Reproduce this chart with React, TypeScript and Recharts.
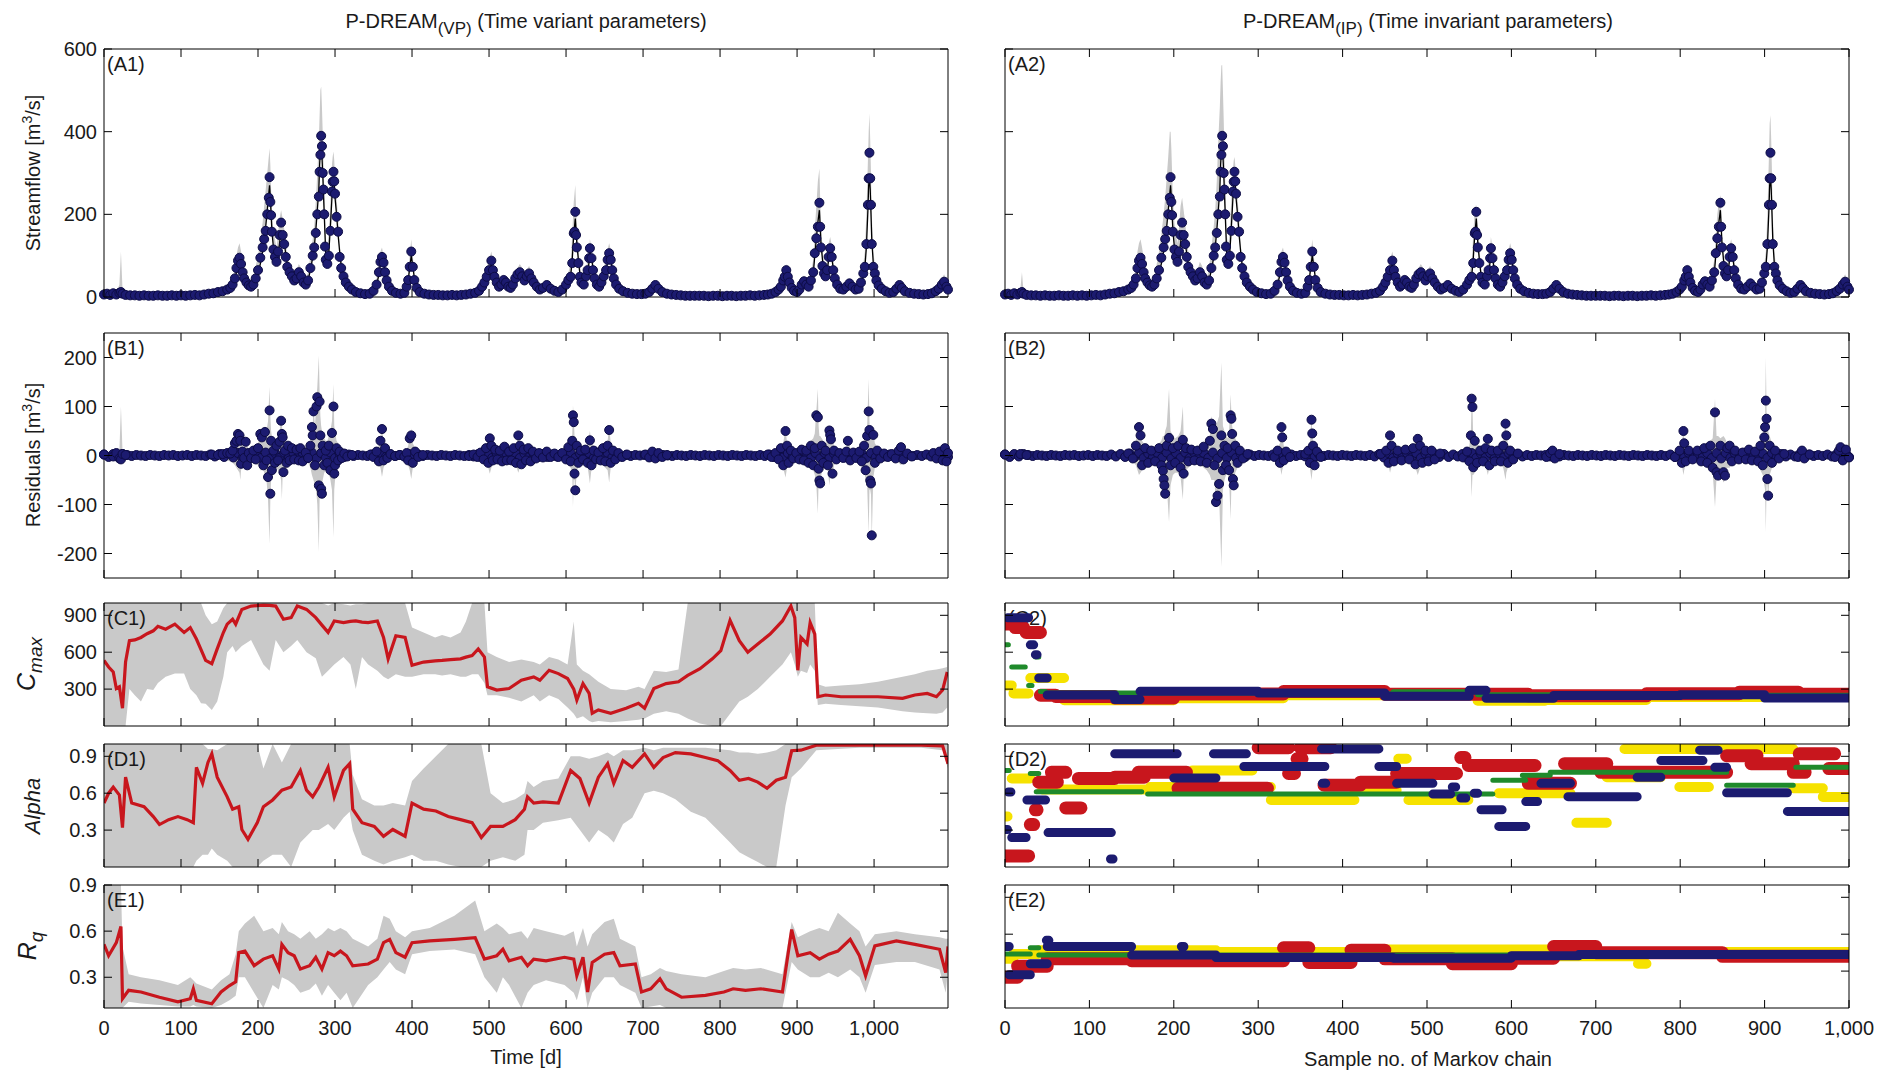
import React from 'react';
import { ComposedChart, Line, Area, XAxis, YAxis } from 'recharts';

const NAVY = '#1c1b70';
const NAVY_EDGE = '#0d0c45';
const GRAY = '#c9c9c9';
const RED = '#c8161d';
const YEL = '#f6e200';
const GRN = '#1f8a2b';
const FONT = '"Liberation Sans", Arial, Helvetica, sans-serif';

// ---------- ticks ----------
const xTicks = [0, 100, 200, 300, 400, 500, 600, 700, 800, 900, 1000];
const flowTicks = [0, 200, 400, 600];
const resTicks = [-200, -100, 0, 100, 200];
const cmaxTicks = [300, 600, 900];
const fracTicks = [0.3, 0.6, 0.9];

// ---------- streamflow: [day, observed, simulated, upper VP, upper IP] ----------
const flowRows: number[][] = [
[0,6,5,8,8],[4,8,7,12,12],[8,5,5,8,8],[12,9,8,14,14],[16,6,6,10,10],[20,10,9,30,20],[22,12,10,110,60],[24,8,8,20,15],[28,5,5,8,8],[34,4,4,6,6],[40,4,4,6,6],[46,3,3,5,5],[52,4,4,6,6],[58,3,3,5,5],[64,3,3,5,5],[70,4,3,6,6],[76,3,3,5,5],[82,3,3,5,5],[88,4,4,6,6],[94,3,3,5,5],[100,4,4,6,6],[106,3,3,5,5],[112,4,4,6,6],[118,5,4,7,7],[124,4,4,6,6],[130,6,5,9,9],[136,8,7,12,12],[142,9,8,14,14],[148,12,10,18,18],[154,14,12,22,22],[160,18,16,28,28],[164,22,20,34,34],[167,30,28,45,45],[170,45,40,70,70],[172,70,60,100,110],[174,88,80,120,130],[176,95,85,130,140],[178,80,75,110,120],[180,60,58,90,95],[182,45,45,70,75],[185,35,35,55,55],[188,28,30,45,45],[191,25,27,40,40],[194,30,30,50,50],[197,45,40,75,80],[200,65,55,100,110],[203,95,80,140,150],[206,120,110,180,200],[208,140,140,220,240],[210,160,170,260,290],[212,200,210,300,340],[214,240,250,340,400],[215,290,270,360,400],[216,230,240,320,360],[217,198,200,260,300],[218,158,160,210,240],[220,115,120,160,180],[222,97,100,140,150],[224,85,90,120,130],[226,110,100,150,170],[228,150,130,190,220],[230,180,160,210,240],[232,150,150,190,210],[234,128,130,165,180],[236,97,105,130,140],[238,73,80,100,110],[241,60,60,80,85],[244,50,50,70,70],[247,40,42,58,60],[250,45,45,65,65],[253,60,55,80,85],[256,50,50,70,75],[259,35,40,55,55],[262,30,32,45,45],[265,40,40,60,70],[268,70,65,100,120],[271,100,95,140,170],[273,120,120,170,210],[275,155,160,230,280],[277,200,210,300,380],[279,243,260,380,460],[280,303,320,440,520],[281,344,350,500,560],[282,390,370,509,561],[283,365,340,460,500],[284,300,300,400,430],[285,260,250,330,350],[286,200,200,260,280],[287,122,150,200,210],[288,90,100,140,150],[290,80,85,120,120],[292,100,110,160,170],[294,160,170,230,240],[296,255,240,320,310],[297,279,270,340,330],[298,303,290,352,339],[299,280,270,330,320],[300,250,240,290,290],[302,194,200,240,240],[304,158,150,190,190],[306,97,110,130,130],[308,70,75,95,95],[311,50,52,70,70],[314,35,38,50,50],[318,25,26,36,36],[322,18,18,26,26],[327,12,12,18,18],[333,9,9,14,14],[339,7,7,11,11],[345,8,8,12,12],[350,15,14,22,22],[354,30,28,45,45],[357,60,55,85,85],[359,85,80,110,110],[361,97,90,120,120],[363,83,80,100,100],[365,60,60,80,80],[367,40,42,55,55],[370,25,26,36,36],[374,15,15,22,22],[379,10,10,15,15],[385,8,8,12,12],[390,10,10,15,15],[393,25,22,35,35],[395,41,40,60,60],[397,73,70,100,100],[399,110,100,140,140],[401,73,75,100,100],[403,41,45,60,60],[406,22,24,32,32],[410,12,13,18,18],[416,8,8,12,12],[422,6,6,9,9],[428,5,5,8,8],[434,5,5,8,8],[440,4,4,6,6],[446,4,4,6,6],[452,5,5,7,7],[458,4,4,6,6],[464,5,5,7,7],[470,6,6,9,9],[476,8,8,12,12],[482,10,10,15,15],[487,15,14,22,22],[491,25,24,36,36],[494,35,33,50,50],[497,49,45,70,70],[500,65,60,90,90],[503,88,80,110,110],[505,65,65,90,90],[507,49,50,70,70],[510,35,36,50,50],[513,25,27,38,38],[516,30,30,45,45],[519,41,38,55,55],[522,35,34,48,48],[525,25,26,36,36],[528,22,22,32,32],[531,30,28,42,42],[534,45,40,60,60],[537,55,50,70,70],[540,60,55,80,80],[543,50,50,70,70],[546,40,42,58,58],[549,50,48,66,66],[552,57,52,75,75],[555,45,45,62,62],[558,35,36,50,50],[562,25,26,36,36],[566,18,19,26,26],[570,22,22,32,32],[575,29,27,40,40],[580,20,21,30,30],[585,15,15,22,22],[590,12,12,18,18],[595,18,17,26,26],[600,30,28,45,45],[603,41,38,60,60],[606,49,50,80,80],[608,82,90,150,150],[610,154,150,230,210],[611,158,170,250,220],[612,206,190,271,222],[613,150,160,220,200],[614,120,130,180,170],[616,82,90,120,120],[618,49,55,75,75],[620,35,38,52,52],[623,30,30,45,45],[626,50,45,70,70],[628,65,60,90,90],[630,94,85,120,120],[631,118,110,140,145],[633,94,95,120,120],[635,65,70,90,90],[637,45,48,62,62],[640,30,32,45,45],[643,25,26,36,36],[646,35,32,48,48],[649,50,45,70,70],[652,65,62,90,90],[654,90,85,115,115],[656,106,100,130,130],[658,90,90,115,115],[660,65,68,85,85],[662,45,48,62,62],[665,30,32,42,42],[669,20,21,30,30],[674,14,14,20,20],[680,10,10,15,15],[686,8,8,12,12],[692,7,7,10,10],[698,7,7,10,10],[703,8,8,12,12],[708,12,11,18,18],[712,20,18,30,30],[716,29,27,40,40],[720,20,20,28,28],[725,12,12,18,18],[731,8,8,12,12],[737,6,6,9,9],[743,5,5,8,8],[749,4,4,6,6],[755,3,3,5,5],[761,3,3,5,5],[767,3,3,5,5],[773,3,3,5,5],[779,3,3,5,5],[785,2,2,4,4],[791,3,3,5,5],[797,3,3,5,5],[803,2,2,4,4],[809,3,3,5,5],[815,3,3,5,5],[821,2,2,4,4],[827,3,3,5,5],[833,3,3,5,5],[839,4,4,6,6],[845,3,3,5,5],[851,4,4,6,6],[857,5,5,7,7],[862,6,6,9,9],[867,8,8,12,12],[872,12,11,18,18],[876,18,16,26,26],[879,25,24,36,36],[882,40,36,55,55],[884,49,45,65,65],[886,65,58,80,80],[888,49,50,66,66],[890,35,36,50,50],[893,22,24,32,32],[896,15,16,22,22],[900,12,12,18,18],[903,18,17,26,26],[906,30,28,42,42],[909,38,36,52,52],[912,30,30,42,42],[915,25,25,36,36],[918,40,38,60,60],[921,60,55,90,90],[923,106,100,160,150],[925,142,140,220,200],[927,170,180,280,230],[929,228,210,311,247],[930,170,170,240,210],[931,120,130,180,160],[933,75,90,120,110],[935,57,60,80,80],[937,50,52,70,70],[939,65,62,90,90],[941,97,90,130,125],[943,118,110,145,140],[945,97,95,125,120],[947,65,70,90,90],[949,45,48,62,62],[952,30,32,42,42],[956,20,21,30,30],[960,18,18,26,26],[964,25,24,36,36],[968,33,30,45,45],[972,25,25,36,36],[976,18,18,26,26],[980,20,20,30,30],[983,35,32,50,50],[986,57,50,80,80],[988,73,70,110,110],[990,128,120,200,200],[992,223,210,330,340],[993,287,270,400,420],[994,349,290,444,440],[995,287,260,380,380],[996,223,200,300,300],[997,128,140,200,200],[999,73,80,110,110],[1001,57,60,80,80],[1003,40,42,56,56],[1006,28,30,40,40],[1010,20,21,30,30],[1015,14,14,20,20],[1020,10,10,15,15],[1025,12,12,18,18],[1029,20,18,28,28],[1033,29,27,40,40],[1036,22,22,32,32],[1040,14,14,20,20],[1046,10,10,15,15],[1052,8,8,12,12],[1058,7,7,10,10],[1064,6,6,9,9],[1070,7,7,10,10],[1075,9,9,14,14],[1080,14,13,20,20],[1084,20,19,30,30],[1088,30,28,45,45],[1091,37,34,55,55],[1094,25,26,40,40],[1096,18,18,28,28]
];

// ---------- residuals: quiet-period points [day, residual] ----------
const resBase: number[][] = [
[0,2],[6,-3],[12,3],[18,-2],[24,3],[30,1],[36,-1],[42,1],[48,0],[54,-1],[60,1],[66,0],[72,-1],[78,1],[84,0],[90,1],[96,-1],[102,0],[108,1],[114,-1],[120,1],[126,0],[132,-1],[138,2],[144,-2],[150,3],[156,-3],[162,4],[168,-4],[174,5],[180,-5],[186,4],[192,-4],[198,5],[204,-5],[210,6],[216,-6],[222,5],[228,-5],[234,6],[240,-5],[246,5],[252,-4],[258,5],[264,-5],[270,6],[276,-6],[282,5],[288,-5],[294,6],[300,-5],[306,4],[312,-3],[318,2],[324,-1],[330,1],[336,0],[342,-1],[348,2],[354,-3],[360,4],[366,-3],[372,2],[378,-1],[384,1],[390,-2],[396,3],[402,-3],[408,2],[414,-1],[420,1],[426,0],[432,-1],[438,1],[444,0],[450,-1],[456,1],[462,0],[468,-1],[474,1],[480,-2],[486,3],[492,-4],[498,5],[504,-5],[510,4],[516,-4],[522,5],[528,-4],[534,5],[540,-5],[546,4],[552,-4],[558,3],[564,-3],[570,3],[576,-3],[582,2],[588,-2],[594,3],[600,-4],[606,5],[612,-5],[618,4],[624,-4],[630,5],[636,-5],[642,4],[648,-4],[654,5],[660,-4],[666,3],[672,-2],[678,1],[684,-1],[690,1],[696,0],[702,1],[708,-2],[714,3],[720,-2],[726,1],[732,0],[738,-1],[744,1],[750,0],[756,-1],[762,1],[768,0],[774,-1],[780,1],[786,0],[792,-1],[798,1],[804,0],[810,-1],[816,1],[822,0],[828,-1],[834,1],[840,0],[846,-1],[852,1],[858,-1],[864,2],[870,-3],[876,4],[882,-4],[888,5],[894,-4],[900,3],[906,-4],[912,5],[918,-5],[924,5],[930,-6],[936,5],[942,-5],[948,4],[954,-3],[960,3],[966,-4],[972,3],[978,-3],[984,4],[990,-5],[996,5],[1002,-4],[1008,3],[1014,-2],[1020,2],[1026,-2],[1032,3],[1038,-3],[1044,2],[1050,-1],[1056,1],[1062,-1],[1068,2],[1074,-2],[1080,3],[1086,-4],[1092,4],[1096,-3]
];

// ---------- residuals around events, VP: [day, residual, lower, upper] ----------
const resEventsVP: number[][] = [
[0,2,-5,5],[12,-2,-6,8],[16,5,-6,10],[20,-6,-8,10],[22,-8,-12,100],[24,3,-8,10],[28,1,-4,4],
[140,2,-5,6],[148,1,-6,8],[154,3,-8,10],[160,5,-10,12],[164,4,-12,15],[167,10,-15,20],[170,25,-20,30],[172,30,-25,40],[174,44,-30,50],[176,41,-35,45],[177,30,-50,45],[178,-17,-30,30],[180,8,-20,20],[182,-5,-15,15],[184,28,-15,35],[186,-20,-25,20],[188,5,-12,12],[191,-5,-12,12],[194,10,-15,18],[197,-8,-18,20],[200,15,-20,25],[203,44,-30,50],[205,37,-30,45],[207,-20,-30,35],[209,48,-40,60],[211,-10,-50,50],[213,-44,-90,70],[215,92,-180,140],[216,-78,-90,80],[217,30,-50,50],[218,-30,-40,40],[220,10,-30,30],[222,-15,-25,25],[224,20,-25,30],[226,-10,-30,35],[228,28,-35,45],[230,71,-50,80],[231,44,-90,60],[232,37,-40,50],[233,-34,-45,40],[235,10,-30,30],[237,-15,-25,25],[239,20,-20,28],[241,-10,-20,20],[244,15,-18,22],[247,-8,-15,15],[250,12,-15,18],[253,-10,-15,15],[255,15,-18,20],[258,-12,-15,15],[262,6,-12,12],[265,-5,-15,15],[268,20,-25,30],[270,58,-40,70],[271,41,-45,60],[272,90,-50,100],[274,-20,-60,60],[276,100,-80,120],[277,119,-100,140],[279,-61,-197,204],[280,110,-90,130],[281,41,-80,80],[282,-68,-80,60],[283,-78,-85,50],[284,20,-50,50],[286,-20,-35,35],[288,10,-30,30],[290,-15,-30,30],[292,20,-35,40],[294,-30,-50,50],[296,46,-70,70],[298,100,-167,146],[299,-37,-70,60],[300,-20,-50,50],[302,15,-30,30],[304,-10,-25,25],[306,8,-20,20],[309,-5,-15,15],[312,4,-10,10],[316,-2,-8,8],[322,1,-5,5],
[346,2,-5,6],[350,-3,-8,10],[354,8,-12,15],[357,-12,-20,20],[359,30,-25,35],[361,54,-44,65],[363,-10,-25,25],[365,15,-18,20],[368,-5,-12,12],[372,3,-8,8],[378,-1,-4,4],[384,1,-4,4],[390,-2,-6,6],[393,5,-12,12],[395,-10,-20,20],[397,35,-30,40],[399,41,-48,55],[401,-15,-25,25],[404,8,-15,15],[408,-3,-10,10],[414,1,-5,5],
[474,-1,-4,5],[480,2,-5,6],[485,-3,-8,10],[489,6,-12,15],[493,-8,-15,18],[496,15,-20,25],[499,-15,-25,25],[501,35,-37,45],[503,20,-25,30],[505,-10,-20,20],[508,12,-18,18],[511,-8,-15,15],[514,10,-15,15],[517,-12,-15,18],[520,18,-18,22],[523,-10,-15,15],[526,8,-12,12],[529,-10,-15,15],[532,15,-18,20],[535,-15,-20,20],[538,41,-35,45],[540,20,-25,30],[542,-18,-22,22],[545,12,-18,18],[548,-10,-18,18],[551,15,-18,20],[554,-12,-15,15],[557,8,-12,12],[561,-6,-10,10],[565,5,-10,10],[570,-4,-8,8],[575,8,-10,10],[580,-3,-8,8],[585,4,-8,8],[590,-3,-8,8],[595,5,-10,10],[600,-8,-12,12],[603,17,-20,20],[606,-12,-25,25],[608,30,-35,40],[609,82,-105,102],[610,68,-50,80],[611,-37,-50,40],[612,-71,-80,40],[614,20,-30,30],[616,-15,-25,25],[619,10,-18,18],[622,-8,-15,15],[625,12,-18,18],[628,-15,-22,22],[631,31,-57,50],[633,-20,-28,25],[636,10,-20,20],[639,-8,-15,15],[642,6,-12,12],[645,-10,-15,15],[648,15,-20,20],[651,-12,-25,25],[654,20,-30,30],[656,52,-55,60],[658,-15,-25,25],[661,10,-18,18],[664,-8,-15,15],[668,5,-10,10],[673,-3,-8,8],[679,2,-5,5],
[703,2,-5,5],[708,-4,-8,8],[712,8,-12,12],[716,-6,-12,12],[720,5,-10,10],[725,-3,-6,6],[731,1,-4,4],
[862,2,-5,5],[867,-3,-8,8],[872,5,-10,10],[876,-8,-15,15],[879,15,-20,20],[882,-20,-25,25],[885,50,-45,55],[887,20,-25,25],[889,-15,-20,20],[892,10,-15,15],[895,-6,-10,10],[899,5,-10,10],[903,-8,-12,12],[906,12,-15,15],[909,-10,-18,18],[912,10,-18,18],[915,-15,-20,20],[918,20,-25,30],[921,-20,-30,35],[923,15,-40,45],[925,82,-60,90],[927,78,-119,136],[928,-27,-50,60],[929,-51,-60,40],[930,-57,-65,40],[932,20,-35,35],[934,-15,-30,30],[937,10,-25,25],[940,-20,-30,30],[942,51,-61,60],[943,42,-40,45],[944,33,-35,40],[946,-37,-45,30],[948,10,-20,20],[951,-8,-15,15],[955,5,-10,10],[960,-5,-10,10],[964,8,-12,12],[966,30,-20,35],[969,-10,-15,15],[973,6,-10,10],[977,-5,-10,10],[981,8,-12,12],[984,-12,-20,20],[987,20,-30,30],[989,-30,-50,50],[991,40,-60,60],[993,90,-160,156],[994,52,-70,70],[995,-51,-70,40],[996,-57,-80,40],[997,-163,-170,40],[999,42,-45,50],[1001,-15,-25,25],[1004,10,-18,18],[1008,-6,-12,12],[1013,4,-8,8],[1018,-3,-6,6],[1023,3,-6,6],[1028,-6,-10,10],[1032,10,-15,15],[1035,17,-20,20],[1038,-8,-12,12],[1043,4,-8,8],[1049,-2,-5,5],
[1077,5,-10,10],[1081,-6,-12,12],[1085,8,-15,15],[1089,-10,-18,18],[1092,15,-22,22],[1094,-12,-18,18],[1096,5,-10,10]
];

// ---------- residuals around events, IP: [day, residual, lower, upper] ----------
const resEventsIP: number[][] = [
[0,2,-5,5],[20,3,-5,8],[28,1,-4,4],
[160,4,-8,10],[166,-6,-12,15],[170,20,-20,30],[174,58,-40,60],[176,41,-35,45],[178,-20,-30,30],[182,15,-20,20],[186,-15,-20,20],[190,10,-15,18],[195,-12,-18,18],[200,15,-25,25],[203,-20,-30,30],[205,-31,-45,40],[206,-48,-55,40],[207,-61,-70,40],[208,-78,-85,50],[210,20,-60,60],[213,36,-136,136],[215,-20,-60,50],[218,15,-40,40],[221,-15,-35,35],[225,20,-35,40],[228,-25,-45,50],[231,32,-90,100],[232,-37,-45,40],[235,15,-30,30],[238,-12,-25,25],[242,12,-20,20],[246,-10,-18,18],[250,10,-18,18],[254,-12,-20,20],[258,18,-25,25],[262,-15,-30,30],[266,30,-40,40],[268,65,-50,80],[270,54,-50,70],[272,-20,-50,50],[274,-95,-105,60],[276,-82,-90,70],[278,-58,-80,80],[281,41,-228,190],[283,-30,-70,60],[285,20,-50,50],[287,-20,-40,40],[289,15,-35,35],[291,-30,-50,50],[293,82,-130,125],[294,75,-60,85],[295,44,-60,60],[296,-48,-60,50],[297,-61,-70,40],[299,20,-35,35],[302,-15,-25,25],[305,10,-18,18],[309,-6,-12,12],[315,3,-6,6],
[350,-3,-6,8],[354,10,-12,15],[357,-15,-20,25],[359,58,-40,60],[360,37,-30,45],[362,-10,-20,20],[365,8,-12,12],[370,-3,-6,6],
[390,3,-6,6],[394,10,-15,18],[396,-15,-25,25],[398,73,-50,80],[399,45,-35,50],[400,20,-25,25],[402,-20,-25,20],[405,8,-12,12],[410,-3,-6,6],
[488,3,-6,8],[495,10,-15,18],[498,-15,-20,20],[500,41,-35,45],[502,20,-22,22],[505,-12,-18,18],[510,10,-15,15],[515,-10,-15,15],[520,12,-18,18],[525,-8,-12,12],[530,15,-18,18],[533,-18,-25,25],[536,34,-40,40],[539,20,-25,25],[542,-15,-20,20],[546,10,-15,15],[550,-12,-18,18],[554,10,-15,15],[558,-8,-12,12],[565,4,-8,8],
[595,-4,-8,8],[600,8,-12,12],[603,-12,-20,20],[605,41,-40,50],[606,116,-85,120],[607,99,-40,105],[608,-24,-40,40],[610,30,-35,35],[613,-15,-25,25],[617,10,-18,18],[621,-12,-18,18],[624,15,-20,20],[627,34,-40,45],[629,-20,-25,25],[632,10,-18,18],[636,-12,-18,18],[640,10,-15,15],[644,-12,-18,18],[647,20,-25,25],[650,65,-50,70],[651,41,-35,45],[653,-15,-25,25],[656,10,-15,15],[660,-8,-12,12],[666,4,-8,8],
[703,-3,-6,6],[708,5,-10,10],[711,10,-15,15],[714,-6,-12,12],[720,3,-6,6],
[870,-3,-6,8],[876,10,-15,15],[879,-15,-20,20],[881,50,-40,55],[882,25,-30,35],[884,-12,-18,18],[888,10,-15,15],[893,-8,-12,12],[899,10,-15,15],[904,-12,-18,18],[908,15,-20,20],[912,-15,-25,25],[916,20,-30,30],[919,-25,-35,35],[922,88,-105,116],[924,-34,-45,40],[926,-41,-50,40],[929,20,-35,35],[933,-34,-55,40],[935,-41,-50,35],[938,15,-25,25],[941,20,-25,25],[944,-12,-18,18],[948,10,-15,15],[953,-8,-12,12],[958,6,-10,10],[962,-8,-12,12],[966,12,-15,15],[970,-10,-15,15],[974,8,-12,12],[978,-12,-18,18],[981,20,-30,30],[984,-20,-40,40],[986,37,-60,60],[987,58,-70,70],[988,112,-156,200],[989,75,-60,85],[990,-48,-60,50],[991,-82,-90,50],[993,20,-40,40],[996,-15,-25,25],[1000,10,-15,15],[1005,-6,-10,10],[1012,3,-6,6],
[1030,-3,-6,8],[1035,10,-15,15],[1038,-6,-12,12],[1045,2,-5,5],
[1078,-3,-6,8],[1083,10,-15,15],[1085,17,-20,20],[1088,-10,-15,15],[1092,12,-18,18],[1096,-4,-8,8]
];

// ---------- time-variant parameters: [day, mean, lower, upper] ----------
const cmaxRows: number[][] = [
[0,533,0,1000],[6,480,0,1000],[12,439,0,1000],[16,305,0,1000],[20,319,0,1000],[24,145,0,1000],[28,520,0,1000],[33,694,300,1000],[40,700,250,1000],[48,720,200,1000],[56,750,300,1000],[64,774,292,1000],[70,810,350,1000],[80,787,400,1000],[92,828,426,1000],[104,761,426,1000],[112,800,300,1000],[120,707,250,1000],[126,620,185,1000],[132,533,180,900],[140,506,131,828],[147,627,200,850],[155,760,400,960],[160,828,600,1000],[167,868,650,1000],[171,828,600,1000],[179,948,650,1000],[191,975,700,1000],[207,983,500,1000],[215,980,450,1000],[223,975,700,1000],[233,868,600,1000],[243,881,650,1000],[251,975,700,1000],[263,948,600,1000],[275,881,550,1000],[283,820,400,1000],[291,761,450,980],[299,854,500,1000],[311,841,560,990],[320,850,500,980],[327,854,300,990],[335,845,560,990],[343,841,500,1000],[355,854,450,1000],[363,720,400,1000],[369,546,380,1000],[379,734,420,1000],[391,720,400,1000],[400,493,400,800],[415,520,420,760],[430,530,420,720],[439,533,410,740],[450,540,420,720],[463,546,400,760],[470,560,400,850],[478,573,420,1000],[486,627,420,1000],[494,560,350,1000],[498,319,250,600],[510,292,250,560],[526,305,230,520],[542,372,200,540],[558,399,250,520],[566,372,200,500],[578,453,250,560],[590,426,220,540],[602,386,150,500],[610,300,100,850],[614,211,60,500],[622,345,80,450],[630,265,40,420],[634,104,30,400],[642,131,40,360],[658,104,30,300],[678,145,40,290],[694,185,50,320],[702,145,60,300],[714,305,100,450],[730,345,120,440],[746,359,100,460],[758,412,60,1000],[774,466,20,1000],[790,546,0,1000],[801,613,0,1000],[813,860,100,1000],[825,694,200,1000],[836,600,238,1000],[849,667,300,1000],[865,747,400,1000],[881,854,500,1000],[892,975,600,1000],[897,881,500,1000],[901,453,400,1000],[905,720,450,1000],[913,667,430,1000],[917,841,500,1000],[923,747,450,1000],[927,238,171,340],[937,252,180,320],[957,238,170,330],[981,238,160,340],[1005,238,150,360],[1037,225,120,400],[1053,252,110,420],[1069,265,104,450],[1081,238,100,460],[1089,292,110,470],[1095,439,150,480]
];
const alphaRows: number[][] = [
[0,0.52,0,1],[6,0.6,0,1],[12,0.65,0,1],[20,0.585,0,1],[24,0.32,0,1],[28,0.73,0,1],[36,0.52,0,1],[52,0.49,0,1],[64,0.41,0,1],[72,0.345,0,1],[84,0.385,0,1],[96,0.41,0,1],[108,0.385,0,1],[116,0.36,0,1],[120,0.81,0.05,1],[128,0.68,0.1,1],[135,0.85,0.1,0.96],[140,0.92,0.15,0.96],[147,0.73,0.1,0.95],[160,0.57,0.05,1],[167,0.47,0,1],[175,0.49,0,1],[179,0.305,0,1],[187,0.225,0,1],[199,0.36,0,1],[207,0.49,0.05,0.8],[219,0.545,0.1,1],[231,0.625,0.1,0.85],[243,0.65,0,1],[255,0.785,0.2,1],[263,0.625,0.25,1],[271,0.57,0.3,1],[279,0.65,0.3,1],[291,0.81,0.35,1],[299,0.57,0.3,1],[311,0.785,0.4,1],[319,0.84,0.45,1],[323,0.47,0.3,0.75],[335,0.36,0.1,0.55],[351,0.33,0.05,0.5],[363,0.25,0.02,0.5],[375,0.305,0.05,0.52],[391,0.25,0.08,0.5],[400,0.52,0.1,0.7],[415,0.47,0.05,0.8],[431,0.455,0.05,0.9],[447,0.41,0.02,1],[463,0.385,0,1],[478,0.36,0,1],[490,0.24,0,1],[502,0.33,0.05,0.6],[518,0.33,0.08,0.52],[534,0.385,0.05,0.55],[546,0.47,0.1,0.6],[550,0.57,0.3,0.7],[558,0.52,0.3,0.65],[570,0.53,0.36,0.7],[590,0.52,0.38,0.72],[606,0.785,0.4,0.9],[618,0.72,0.3,0.9],[630,0.52,0.2,0.88],[642,0.73,0.3,0.9],[654,0.84,0.25,0.93],[662,0.68,0.2,0.9],[674,0.865,0.35,0.95],[686,0.81,0.4,0.95],[702,0.92,0.6,0.97],[714,0.81,0.62,0.95],[726,0.89,0.6,0.97],[742,0.93,0.55,0.97],[762,0.92,0.45,0.97],[781,0.89,0.4,0.97],[797,0.865,0.3,0.96],[813,0.785,0.2,0.95],[825,0.705,0.12,0.93],[837,0.72,0.08,0.93],[849,0.69,0.04,0.92],[861,0.64,0,0.93],[873,0.705,0,0.95],[885,0.73,0.5,1],[893,0.945,0.73,1],[905,0.95,0.8,1],[925,0.99,0.95,1],[981,0.99,0.97,1],[1061,0.99,0.97,1],[1089,0.985,0.95,1],[1096,0.84,0.8,1]
];
const rqRows: number[][] = [
[0,0.514,0.1,0.9],[6,0.44,0.1,0.9],[16,0.525,0.1,0.9],[22,0.63,0.1,0.9],[24,0.16,0.1,0.5],[32,0.215,0.14,0.32],[48,0.204,0.13,0.3],[72,0.17,0.12,0.28],[96,0.14,0.11,0.25],[112,0.16,0.11,0.3],[116,0.225,0.12,0.28],[120,0.15,0.11,0.26],[140,0.128,0.1,0.22],[152,0.204,0.12,0.28],[163,0.246,0.15,0.32],[171,0.27,0.18,0.45],[175,0.46,0.3,0.6],[183,0.47,0.3,0.65],[195,0.375,0.2,0.7],[207,0.418,0.1,0.6],[219,0.44,0.25,0.62],[227,0.353,0.22,0.58],[231,0.514,0.3,0.66],[239,0.46,0.28,0.6],[247,0.44,0.25,0.58],[255,0.353,0.2,0.55],[267,0.375,0.22,0.6],[275,0.43,0.26,0.55],[283,0.353,0.18,0.58],[291,0.46,0.25,0.62],[299,0.44,0.2,0.6],[307,0.47,0.15,0.62],[315,0.44,0.2,0.6],[323,0.375,0.1,0.55],[343,0.386,0.25,0.5],[355,0.418,0.3,0.55],[363,0.525,0.35,0.7],[371,0.546,0.4,0.68],[379,0.46,0.35,0.6],[391,0.43,0.32,0.56],[400,0.525,0.45,0.6],[423,0.536,0.47,0.62],[455,0.546,0.48,0.7],[482,0.557,0.45,0.8],[494,0.418,0.3,0.6],[510,0.44,0.2,0.65],[518,0.482,0.3,0.62],[526,0.407,0.25,0.58],[542,0.43,0.1,0.6],[550,0.375,0.2,0.55],[558,0.418,0.25,0.62],[574,0.407,0.28,0.6],[598,0.43,0.25,0.57],[610,0.418,0.2,0.6],[614,0.31,0.15,0.5],[622,0.43,0.3,0.62],[628,0.204,0.1,0.5],[634,0.396,0.2,0.58],[650,0.45,0.3,0.66],[662,0.46,0.3,0.68],[670,0.375,0.25,0.55],[690,0.386,0.2,0.5],[698,0.204,0.1,0.3],[710,0.225,0.11,0.32],[722,0.29,0.12,0.36],[730,0.225,0.1,0.34],[750,0.17,0.1,0.32],[781,0.182,0.1,0.3],[805,0.204,0.1,0.34],[817,0.225,0.1,0.36],[833,0.215,0.1,0.35],[853,0.225,0.1,0.36],[881,0.204,0.1,0.32],[893,0.61,0.4,0.66],[901,0.44,0.35,0.56],[917,0.46,0.3,0.6],[929,0.418,0.3,0.62],[941,0.45,0.33,0.6],[953,0.47,0.3,0.72],[969,0.546,0.35,0.65],[981,0.44,0.3,0.6],[989,0.31,0.2,0.5],[1001,0.504,0.38,0.58],[1029,0.536,0.4,0.6],[1053,0.514,0.4,0.58],[1085,0.482,0.35,0.56],[1093,0.33,0.2,0.55],[1096,0.5,0.35,0.55]
];

// ---------- Markov chains (time invariant): [startSample, endSample, value] ----------
const c2Yellow = [[2,8,330],[10,28,265],[30,70,390],[70,200,210],[200,330,225],[330,560,250],[560,640,205],[640,760,212],[760,1000,235]];
const c2Red = [[0,10,830],[12,22,800],[25,42,760],[42,60,250],[60,130,240],[130,200,228],[200,330,260],[330,450,280],[450,620,258],[620,760,245],[760,870,262],[870,940,275],[940,1000,258]];
const c2Green = [[0,4,660],[8,24,480],[28,32,330],[36,40,560],[42,48,280],[48,300,268],[300,460,262],[460,560,278],[560,700,255],[700,1000,250]];
const c2Navy = [[3,28,880],[30,34,660],[36,38,580],[40,50,390],[50,130,252],[130,160,215],[160,300,282],[300,450,268],[450,550,242],[550,570,290],[570,650,225],[650,800,248],[800,900,255],[900,1000,228]];

const d2Yellow = [[0,3,0.41],[8,30,0.72],[44,172,0.63],[172,222,0.65],[222,293,0.785],[293,315,0.65],[315,414,0.545],[414,464,0.625],[466,476,0.88],[478,549,0.545],[585,670,0.6],[677,713,0.36],[713,777,0.73],[734,841,0.96],[799,834,0.65],[841,934,0.96],[934,969,0.64],[969,1000,0.57]];
const d2Red = [[0,28,0.09],[30,34,0.345],[36,38,0.465],[40,62,0.69],[55,72,0.77],[72,90,0.48],[87,130,0.72],[130,165,0.73],[158,215,0.77],[205,311,0.64],[300,336,0.97],[336,343,0.76],[346,352,0.88],[350,386,0.97],[378,421,0.665],[421,464,0.69],[464,535,0.76],[540,545,0.89],[549,628,0.825],[620,670,0.68],[663,713,0.84],[706,855,0.77],[855,891,0.905],[884,934,0.84],[934,948,0.77],[941,983,0.92],[976,1000,0.8]];
const d2Green = [[0,5,0.785],[30,40,0.76],[37,162,0.612],[169,578,0.593],[578,617,0.705],[613,646,0.745],[646,855,0.77],[855,934,0.665],[937,1000,0.81]];
const d2Navy = [[0,3,0.305],[4,7,0.61],[8,25,0.24],[26,48,0.545],[51,126,0.28],[125,128,0.065],[130,204,0.92],[200,250,0.724],[247,286,0.92],[283,379,0.817],[375,443,0.96],[376,380,0.68],[443,464,0.817],[464,507,0.68],[507,528,0.593],[530,534,0.65],[540,546,0.56],[556,560,0.6],[564,589,0.465],[585,617,0.33],[617,631,0.532],[635,670,0.68],[667,749,0.572],[749,777,0.73],[777,827,0.865],[823,845,0.95],[841,855,0.81],[855,927,0.604],[927,1000,0.452]];

const e2Yellow = [[0,10,0.40],[10,40,0.44],[40,150,0.47],[150,250,0.47],[250,450,0.455],[450,650,0.475],[650,750,0.42],[750,760,0.36],[760,1000,0.455]];
const e2Red = [[0,15,0.25],[15,50,0.34],[50,150,0.40],[150,330,0.385],[330,360,0.49],[360,410,0.37],[410,450,0.47],[450,530,0.40],[530,600,0.36],[600,650,0.405],[650,700,0.50],[700,850,0.45],[850,1000,0.42]];
const e2Green = [[0,30,0.44],[30,40,0.49],[40,150,0.43],[150,1000,0.43]];
const e2Navy = [[0,5,0.5],[5,30,0.27],[30,50,0.36],[50,150,0.5],[49,52,0.55],[150,250,0.43],[209,212,0.5],[250,460,0.41],[460,600,0.405],[600,680,0.425],[680,1000,0.435]];

// ---------- derived records ----------
const flowData = flowRows.map(([day, obs, sim, hiVP, hiIP]) => ({ day, obs, sim, hiVP, hiIP }));
const resBaseData = resBase.map(([day, res]) => ({ day, res }));
const toRes = (rows: number[][]) => rows.map(([day, res, lo, hi]) => ({ day, res, lo, hi }));
const resVPData = toRes(resEventsVP);
const resIPData = toRes(resEventsIP);
const toPar = (rows: number[][]) => rows.map(([day, mean, lo, hi]) => ({ day, mean, lo, hi }));
const cmaxData = toPar(cmaxRows);
const alphaData = toPar(alphaRows);
const rqData = toPar(rqRows);
const segData = (segs: number[][]) => {
  const out: { x: number; y: number | null }[] = [];
  segs.forEach(([s, e, v]) => { out.push({ x: s, y: v }, { x: e, y: v }, { x: e, y: null }); });
  return out;
};

// ---------- layout ----------
const PL = 60, PR = 40, PB = 40, PT = 14, PW = 844;
const COLS = [104, 1005];
const ROW_A: [number, number] = [49, 248];
const ROW_B: [number, number] = [333, 245];
const ROW_C: [number, number] = [603, 123];
const ROW_D: [number, number] = [744, 123];
const ROW_E: [number, number] = [885, 123];

const fmtX = (v: number) => (v >= 1000 ? `${Math.floor(v / 1000)},${String(v % 1000).padStart(3, '0')}` : String(v));

const makeXTick = (plotH: number, showLabel: boolean) => (p: any) => {
  const { x, y, payload } = p;
  return (
    <g>
      <line x1={x} x2={x} y1={y} y2={y - 8} stroke="#000" strokeWidth={1} />
      <line x1={x} x2={x} y1={y - plotH} y2={y - plotH + 8} stroke="#000" strokeWidth={1} />
      {showLabel && (
        <text x={x} y={y + 27} textAnchor="middle" fontSize={20} fontFamily={FONT} fill="#1a1a1a">{fmtX(payload.value)}</text>
      )}
    </g>
  );
};
const makeYTick = (showLabel: boolean, fmt: (v: number) => string) => (p: any) => {
  const { x, y, payload } = p;
  return (
    <g>
      <line x1={x} x2={x + 8} y1={y} y2={y} stroke="#000" strokeWidth={1} />
      <line x1={x + PW} x2={x + PW - 8} y1={y} y2={y} stroke="#000" strokeWidth={1} />
      {showLabel && (
        <text x={x - 7} y={y + 7} textAnchor="end" fontSize={20} fontFamily={FONT} fill="#1a1a1a">{fmt(payload.value)}</text>
      )}
    </g>
  );
};

type PanelProps = {
  col: number;
  row: [number, number];
  yDomain: [number, number];
  yTicks: number[];
  yFmt: (v: number) => string;
  xKey: string;
  bottomLabels?: boolean;
  timeAxis?: boolean;
  children: React.ReactNode;
};

function Panel(p: PanelProps) {
  const left = COLS[p.col];
  const [top, h] = p.row;
  const xDom: [number, number] = p.col === 0 ? [0, 1096] : [0, 1000];
  return (
    <div style={{ position: 'absolute', left: left - PL, top: top - PT }}>
      <ComposedChart width={PL + PW + PR} height={PT + h + PB} margin={{ top: 0, right: 0, bottom: 0, left: 0 }}>
        <XAxis xAxisId="b" type="number" dataKey={p.xKey} domain={xDom} allowDataOverflow ticks={xTicks} interval={0}
          tickLine={false} tickSize={0} tickMargin={0} height={PB} axisLine={{ stroke: '#000' }}
          tick={makeXTick(h, !!p.bottomLabels)} />
        {p.timeAxis && (
          <XAxis xAxisId="t" type="number" dataKey="day" domain={[0, 1096]} allowDataOverflow hide />
        )}
        <XAxis xAxisId="top" orientation="top" type="number" domain={xDom} allowDataOverflow height={PT}
          tick={false} tickLine={false} axisLine={{ stroke: '#000' }} />
        <YAxis yAxisId="l" type="number" domain={p.yDomain} allowDataOverflow ticks={p.yTicks} interval={0} width={PL}
          tickLine={false} tickSize={0} tickMargin={0} axisLine={{ stroke: '#000' }}
          tick={makeYTick(p.col === 0, p.yFmt)} />
        <YAxis yAxisId="r" orientation="right" type="number" domain={p.yDomain} allowDataOverflow width={PR}
          tick={false} tickLine={false} axisLine={{ stroke: '#000' }} />
        {p.children}
      </ComposedChart>
    </div>
  );
}

const dotStyle = { r: 4.5, fill: NAVY, stroke: NAVY_EDGE, strokeWidth: 1, clipDot: false };
const intFmt = (v: number) => String(v);
const decFmt = (v: number) => v.toFixed(1);
const bandKey = (d: any) => [d.lo, d.hi];
const flowBandVP = (d: any) => [d.sim, d.hiVP];
const flowBandIP = (d: any) => [d.sim, d.hiIP];

function flowSeries(xId: string, band: (d: any) => number[]) {
  return [
    <Area key="band" xAxisId={xId} yAxisId="l" data={flowData} dataKey={band} type="linear" fill={GRAY} fillOpacity={1} stroke="none" dot={false} activeDot={false} isAnimationActive={false} />,
    <Line key="sim" xAxisId={xId} yAxisId="l" data={flowData} dataKey="sim" type="linear" stroke="#000" strokeWidth={1.3} dot={false} activeDot={false} isAnimationActive={false} />,
    <Line key="obs" xAxisId={xId} yAxisId="l" data={flowData} dataKey="obs" type="linear" stroke="none" dot={dotStyle} activeDot={false} isAnimationActive={false} />,
  ];
}
function resSeries(xId: string, ev: any[]) {
  return [
    <Area key="band" xAxisId={xId} yAxisId="l" data={ev} dataKey={bandKey} type="linear" fill={GRAY} fillOpacity={1} stroke="none" dot={false} activeDot={false} isAnimationActive={false} />,
    <Line key="base" xAxisId={xId} yAxisId="l" data={resBaseData} dataKey="res" type="linear" stroke="none" dot={dotStyle} activeDot={false} isAnimationActive={false} />,
    <Line key="ev" xAxisId={xId} yAxisId="l" data={ev} dataKey="res" type="linear" stroke="none" dot={dotStyle} activeDot={false} isAnimationActive={false} />,
  ];
}
function parSeries(data: any[]) {
  return [
    <Area key="band" xAxisId="b" yAxisId="l" data={data} dataKey={bandKey} type="linear" fill={GRAY} fillOpacity={1} stroke="none" dot={false} activeDot={false} isAnimationActive={false} />,
    <Line key="mean" xAxisId="b" yAxisId="l" data={data} dataKey="mean" type="linear" stroke={RED} strokeWidth={3.2} dot={false} activeDot={false} isAnimationActive={false} />,
  ];
}
function chainSeries(yellow: number[][], red: number[][], green: number[][], navy: number[][]) {
  const list: [string, number[][], string, number][] = [
    ['y', yellow, YEL, 10],
    ['r', red, RED, 13],
    ['g', green, GRN, 5],
    ['n', navy, NAVY, 9],
  ];
  return list.map(([k, segs, color, w]) => (
    <Line key={k} xAxisId="b" yAxisId="l" data={segData(segs)} dataKey="y" type="linear" stroke={color} strokeWidth={w}
      strokeLinecap="round" connectNulls={false} dot={false} activeDot={false} isAnimationActive={false} />
  ));
}

const txt = { fontFamily: FONT, fill: '#1a1a1a' } as const;

export default function App() {
  return (
    <div style={{ position: 'absolute', left: 0, top: 0, width: 1881, height: 1074, background: '#fff', overflow: 'hidden' }}>
      {/* letters that sit beneath the chain markers */}
      <svg width={1881} height={1074} style={{ position: 'absolute', left: 0, top: 0 }}>
        <text x={COLS[1] + 3} y={ROW_C[0] + 22} fontSize={20} {...txt}>(C2)</text>
        <text x={COLS[1] + 3} y={ROW_D[0] + 22} fontSize={20} {...txt}>(D2)</text>
      </svg>

      <Panel col={0} row={ROW_A} yDomain={[0, 600]} yTicks={flowTicks} yFmt={intFmt} xKey="day">
        {flowSeries('b', flowBandVP)}
      </Panel>
      <Panel col={1} row={ROW_A} yDomain={[0, 600]} yTicks={flowTicks} yFmt={intFmt} xKey="day" timeAxis>
        {flowSeries('t', flowBandIP)}
      </Panel>
      <Panel col={0} row={ROW_B} yDomain={[-250, 250]} yTicks={resTicks} yFmt={intFmt} xKey="day">
        {resSeries('b', resVPData)}
      </Panel>
      <Panel col={1} row={ROW_B} yDomain={[-250, 250]} yTicks={resTicks} yFmt={intFmt} xKey="day" timeAxis>
        {resSeries('t', resIPData)}
      </Panel>
      <Panel col={0} row={ROW_C} yDomain={[0, 1000]} yTicks={cmaxTicks} yFmt={intFmt} xKey="day">
        {parSeries(cmaxData)}
      </Panel>
      <Panel col={1} row={ROW_C} yDomain={[0, 1000]} yTicks={cmaxTicks} yFmt={intFmt} xKey="x">
        {chainSeries(c2Yellow, c2Red, c2Green, c2Navy)}
      </Panel>
      <Panel col={0} row={ROW_D} yDomain={[0, 1]} yTicks={fracTicks} yFmt={decFmt} xKey="day">
        {parSeries(alphaData)}
      </Panel>
      <Panel col={1} row={ROW_D} yDomain={[0, 1]} yTicks={fracTicks} yFmt={decFmt} xKey="x">
        {chainSeries(d2Yellow, d2Red, d2Green, d2Navy)}
      </Panel>
      <Panel col={0} row={ROW_E} yDomain={[0.1, 0.9]} yTicks={fracTicks} yFmt={decFmt} xKey="day" bottomLabels>
        {parSeries(rqData)}
      </Panel>
      <Panel col={1} row={ROW_E} yDomain={[0, 1]} yTicks={fracTicks} yFmt={decFmt} xKey="x" bottomLabels>
        {chainSeries(e2Yellow, e2Red, e2Green, e2Navy)}
      </Panel>

      {/* titles and labels */}
      <svg width={1881} height={1074} style={{ position: 'absolute', left: 0, top: 0, pointerEvents: 'none' }}>
        <text x={526} y={28} textAnchor="middle" fontSize={20} {...txt}>
          P-DREAM<tspan fontSize={17} dy={6}>(VP)</tspan><tspan dy={-6}> (Time variant parameters)</tspan>
        </text>
        <text x={1428} y={28} textAnchor="middle" fontSize={20} {...txt}>
          P-DREAM<tspan fontSize={17} dy={6}>(IP)</tspan><tspan dy={-6}> (Time invariant parameters)</tspan>
        </text>

        <text x={COLS[0] + 3} y={ROW_A[0] + 22} fontSize={20} {...txt}>(A1)</text>
        <text x={COLS[1] + 3} y={ROW_A[0] + 22} fontSize={20} {...txt}>(A2)</text>
        <text x={COLS[0] + 3} y={ROW_B[0] + 22} fontSize={20} {...txt}>(B1)</text>
        <text x={COLS[1] + 3} y={ROW_B[0] + 22} fontSize={20} {...txt}>(B2)</text>
        <text x={COLS[0] + 3} y={ROW_C[0] + 22} fontSize={20} {...txt}>(C1)</text>
        <text x={COLS[0] + 3} y={ROW_D[0] + 22} fontSize={20} {...txt}>(D1)</text>
        <text x={COLS[0] + 3} y={ROW_E[0] + 22} fontSize={20} {...txt}>(E1)</text>
        <text x={COLS[1] + 3} y={ROW_E[0] + 22} fontSize={20} {...txt}>(E2)</text>

        <text transform="translate(40,173) rotate(-90)" textAnchor="middle" fontSize={20} {...txt}>
          Streamflow [m<tspan fontSize={14} dy={-8}>3</tspan><tspan dy={8}>/s]</tspan>
        </text>
        <text transform="translate(40,455) rotate(-90)" textAnchor="middle" fontSize={20} {...txt}>
          Residuals [m<tspan fontSize={14} dy={-8}>3</tspan><tspan dy={8}>/s]</tspan>
        </text>
        <text transform="translate(35,664) rotate(-90)" textAnchor="middle" fontSize={25} fontStyle="italic" {...txt}>
          C<tspan fontSize={19} dy={7}>max</tspan>
        </text>
        <text transform="translate(40,806) rotate(-90)" textAnchor="middle" fontSize={22} fontStyle="italic" {...txt}>Alpha</text>
        <text transform="translate(36,946) rotate(-90)" textAnchor="middle" fontSize={25} fontStyle="italic" {...txt}>
          R<tspan fontSize={19} dy={7}>q</tspan>
        </text>

        <text x={526} y={1064} textAnchor="middle" fontSize={20} {...txt}>Time [d]</text>
        <text x={1428} y={1066} textAnchor="middle" fontSize={20} {...txt}>Sample no. of Markov chain</text>
      </svg>
    </div>
  );
}
